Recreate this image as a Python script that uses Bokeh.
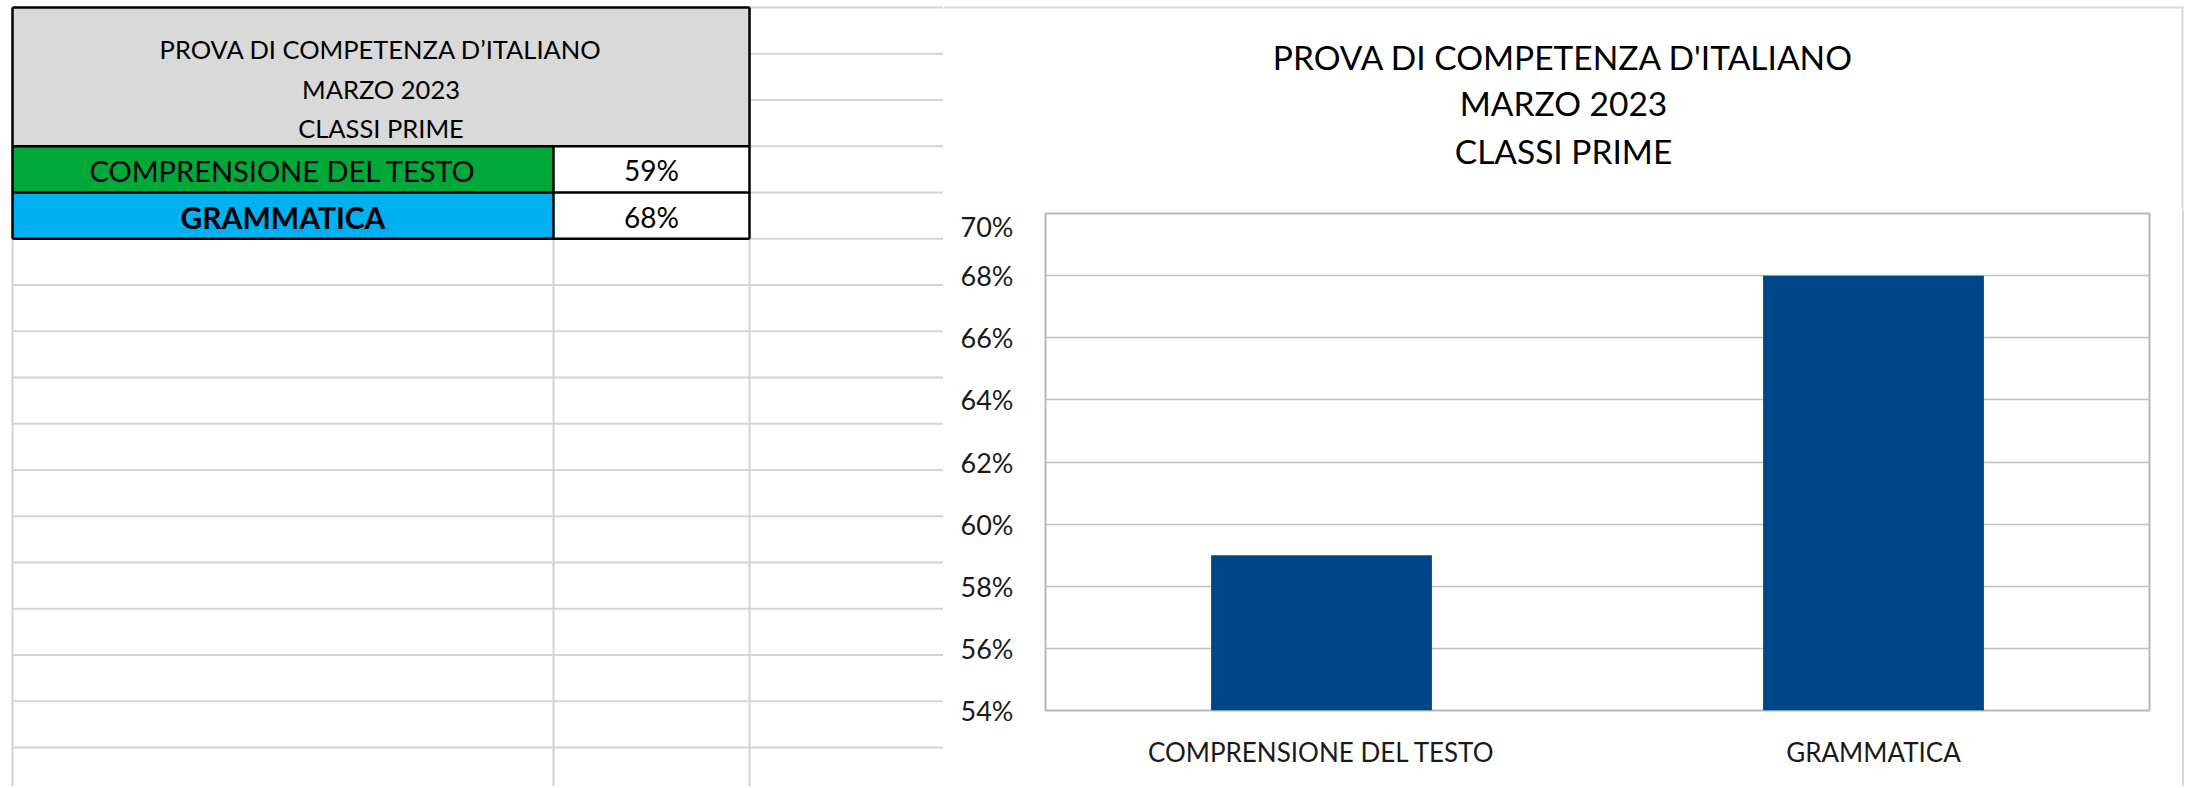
from bokeh.plotting import figure
from bokeh.layouts import row, column
from bokeh.models import Range1d, FactorRange, FixedTicker, NumeralTickFormatter
from bokeh.core.properties import value
from bokeh.embed import file_html
from bokeh.resources import INLINE

# ---------------- data ----------------
chart_title_lines = ["PROVA DI COMPETENZA D'ITALIANO", "MARZO 2023", "CLASSI PRIME"]
table_title_lines = ["PROVA DI COMPETENZA D\u2019ITALIANO", "MARZO 2023", "CLASSI PRIME"]
categories = ["COMPRENSIONE DEL TESTO", "GRAMMATICA"]
values = [0.59, 0.68]
y_ticks = [0.54, 0.56, 0.58, 0.60, 0.62, 0.64, 0.66, 0.68, 0.70]
table_value_labels = ["59%", "68%"]

# ---------------- styles / geometry ----------------
FONT = "Lato"
H = 786
W_TOTAL = 2190
W_LEFT = 943
W_RIGHT = W_TOTAL - W_LEFT

SHEET_GRID = "#D4D4D4"
CHART_BOX = "#D9D9D9"
HEADER_FILL = "#D9D9D9"
ROW_FILLS = ["#00A83A", "#00B0F0"]
BAR_COLOR = "#004586"

ROW0 = 7.0
ROW_H = 46.25
N_ROWS = 17
C0, C1, C2, C_END = 12, 553, 749, 943


def blank(fig):
    fig.axis.visible = False
    fig.xgrid.visible = False
    fig.ygrid.visible = False
    fig.outline_line_color = None
    fig.background_fill_color = "white"
    fig.border_fill_color = "white"
    fig.frame_align = False


# ---------------- left: spreadsheet table ----------------
left = figure(width=W_LEFT, height=H, x_range=Range1d(0, W_LEFT), y_range=Range1d(H, 0),
              output_backend="svg", toolbar_location=None, min_border=0)
blank(left)

rows_y = [ROW0 + k * ROW_H for k in range(N_ROWS)]
table_bottom = rows_y[5]

# sheet gridlines
x0s, x1s, y0s, y1s = [], [], [], []
for k, y in enumerate(rows_y):
    xs = C2 if k <= 5 else C0
    x0s.append(xs); x1s.append(C_END + 2); y0s.append(y); y1s.append(y)
for xc in (C0, C1, C2):
    x0s.append(xc); x1s.append(xc); y0s.append(table_bottom); y1s.append(H + 10)
left.segment(x0=x0s, y0=y0s, x1=x1s, y1=y1s, line_color=SHEET_GRID, line_width=2)

# fills
left.quad(left=[C0], right=[C2], top=[rows_y[0]], bottom=[rows_y[3]],
          fill_color=HEADER_FILL, line_color=None)
left.quad(left=[C0] * 2, right=[C1] * 2,
          top=[rows_y[3], rows_y[4]], bottom=[rows_y[4], rows_y[5]],
          fill_color=ROW_FILLS, line_color=None)

# black borders
bx0 = [C0, C0, C0, C0, C0, C2, C1]
bx1 = [C2, C2, C2, C2, C0, C2, C1]
by0 = [rows_y[0], rows_y[3], rows_y[4], rows_y[5], rows_y[0], rows_y[0], rows_y[3]]
by1 = [rows_y[0], rows_y[3], rows_y[4], rows_y[5], rows_y[5], rows_y[5], rows_y[5]]
left.segment(x0=bx0, y0=by0, x1=bx1, y1=by1, line_color="black", line_width=2.5)

# texts
left.text(x=[(C0 + C2) / 2] * 3, y=[48, 88, 127], text=table_title_lines,
          text_font=value(FONT), text_font_size="25.5px", text_align="center", text_baseline="middle",
          text_color="black")
row_mid = [rows_y[3] + ROW_H / 2 + 1, rows_y[4] + ROW_H / 2 + 1]
left.text(x=[(C0 + C1) / 2], y=[row_mid[0]], text=[categories[0]],
          text_font=value(FONT), text_font_size="29px", text_align="center", text_baseline="middle",
          text_color="black")
left.text(x=[(C0 + C1) / 2], y=[row_mid[1]], text=[categories[1]],
          text_font=value(FONT), text_font_size="30px", text_font_style="bold", text_align="center",
          text_baseline="middle", text_color="black")
left.text(x=[(C1 + C2) / 2] * 2, y=row_mid, text=table_value_labels,
          text_font=value(FONT), text_font_size="28px", text_align="center", text_baseline="middle",
          text_color="black")

# ---------------- right: chart title area ----------------
TITLE_H = 209
RX0 = 943  # x of right block
title_fig = figure(width=W_RIGHT, height=TITLE_H, x_range=Range1d(RX0, RX0 + W_RIGHT),
                   y_range=Range1d(TITLE_H, 0),
                   output_backend="svg", toolbar_location=None, min_border=0)
blank(title_fig)
title_fig.text(x=[1563] * 3, y=[56, 102, 150], text=chart_title_lines,
               text_font=value(FONT), text_font_size="33.5px", text_align="center", text_baseline="middle",
               text_color="black")
# chart box: top edge and right edge
title_fig.segment(x0=[RX0, 2182], y0=[7, 6], x1=[2183, 2182], y1=[7, TITLE_H + 2],
                  line_color=CHART_BOX, line_width=2)

# ---------------- right: bar chart ----------------
CHART_W = 2181 - RX0
CHART_H = H - TITLE_H
chart = figure(width=CHART_W, height=CHART_H, x_range=FactorRange(*categories),
               y_range=Range1d(y_ticks[0], y_ticks[-1]),
               output_backend="svg", toolbar_location=None,
               min_border_left=102, min_border_right=32, min_border_top=4,
               min_border_bottom=CHART_H - 4 - 497)
chart.frame_align = False
chart.vbar(x=categories, top=values, bottom=0, width=0.4, fill_color=BAR_COLOR, line_color=None)

chart.yaxis.ticker = FixedTicker(ticks=y_ticks)
chart.yaxis.formatter = NumeralTickFormatter(format="0%")
for ax in (chart.xaxis, chart.yaxis):
    ax.axis_line_color = None
    ax.major_tick_line_color = None
    ax.minor_tick_line_color = None
    ax.major_label_text_font = FONT
    ax.major_label_text_color = "#1A1A1A"
chart.yaxis.major_label_text_font_size = "27px"
chart.xaxis.major_label_text_font_size = "26px"
chart.yaxis.major_label_standoff = 26
chart.xaxis.major_label_standoff = 19
chart.xgrid.visible = False
chart.ygrid.grid_line_color = "#C0C0C0"
chart.ygrid.grid_line_width = 1.5
chart.outline_line_color = "#B8B8B8"
chart.outline_line_width = 2
chart.background_fill_color = "white"
chart.border_fill_color = "white"

# right edge strip of the chart box
EDGE_W = W_RIGHT - CHART_W
edge = figure(width=EDGE_W, height=CHART_H, x_range=Range1d(2181, 2181 + EDGE_W),
              y_range=Range1d(CHART_H, 0), output_backend="svg", toolbar_location=None, min_border=0)
blank(edge)
edge.segment(x0=[2182.5], y0=[-2], x1=[2182.5], y1=[CHART_H + 2],
             line_color=CHART_BOX, line_width=2)

layout = row(left, column(title_fig, row(chart, edge)))
open("out.html", "w").write(file_html(layout, INLINE))
